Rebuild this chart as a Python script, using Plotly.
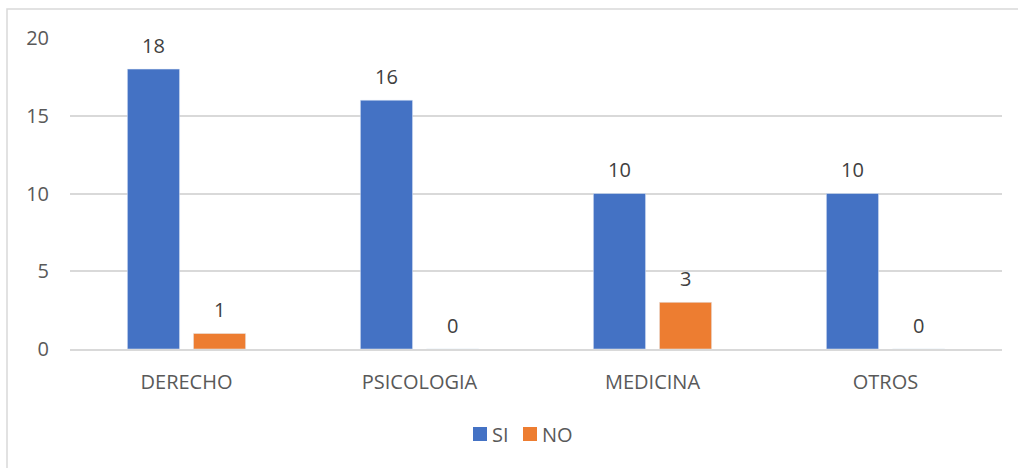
import plotly.graph_objects as go

categorias = ["DERECHO", "PSICOLOGIA", "MEDICINA", "OTROS"]
si = [18, 16, 10, 10]
no = [1, 0, 3, 0]
y_ticks = [0, 5, 10, 15, 20]

FONT = "Open Sans"
TXT = "#595959"
FS = 20
C_SI, C_NO = "#4472C4", "#ED7D31"

W, H = 1018, 468
L, R, T, B = 70, 16, 38, 119
pw, ph = W - L - R, H - T - B


def px_x(p):
    return (p - L) / pw


def px_y(p):
    return (H - B - p) / ph


fig = go.Figure()
fig.add_trace(go.Bar(name="SI", x=categorias, y=si, marker_color=C_SI, showlegend=False))
fig.add_trace(go.Bar(name="NO", x=categorias, y=no, marker_color=C_NO, showlegend=False))

# value labels above each bar
for vals, dx in ((si, -33), (no, 33)):
    for c, v in zip(categorias, vals):
        fig.add_annotation(x=c, y=v, xref="x", yref="y", text=str(v),
                           showarrow=False, xshift=dx, yshift=24,
                           font=dict(family=FONT, size=FS, color="#404040"))

# compact legend below the axis
for name, color, x0 in (("SI", C_SI, 473), ("NO", C_NO, 523)):
    fig.add_shape(type="rect", xref="paper", yref="paper",
                  x0=px_x(x0), x1=px_x(x0 + 14), y0=px_y(441), y1=px_y(427),
                  fillcolor=color, line=dict(width=0))
    fig.add_annotation(xref="paper", yref="paper", x=px_x(x0 + 17), y=px_y(434),
                       xanchor="left", yanchor="middle", text=name, showarrow=False,
                       font=dict(family=FONT, size=FS, color=TXT))

# outer chart border
fig.add_shape(type="rect", xref="paper", yref="paper",
              x0=px_x(7), x1=px_x(W + 5), y0=px_y(9), y1=px_y(H + 5),
              line=dict(color="#D9D9D9", width=1.5), layer="below")

fig.update_layout(
    width=W, height=H,
    margin=dict(l=L, r=R, t=T, b=B),
    paper_bgcolor="white", plot_bgcolor="white",
    barmode="group", bargap=0.433, bargroupgap=0.21,
    font=dict(family=FONT, size=FS, color=TXT),
    showlegend=False,
    xaxis=dict(showgrid=False, showline=True, linecolor="#D9D9D9", linewidth=1.5,
               ticks="", ticklabelstandoff=14,
               tickfont=dict(family=FONT, size=FS, color=TXT)),
    yaxis=dict(range=[0, 20], tickvals=y_ticks, showgrid=True,
               gridcolor="#D9D9D9", gridwidth=1.5, zeroline=False,
               showline=False, ticks="", ticklabelstandoff=20,
               tickfont=dict(family=FONT, size=FS, color=TXT)),
)

fig.write_html("out.html")
